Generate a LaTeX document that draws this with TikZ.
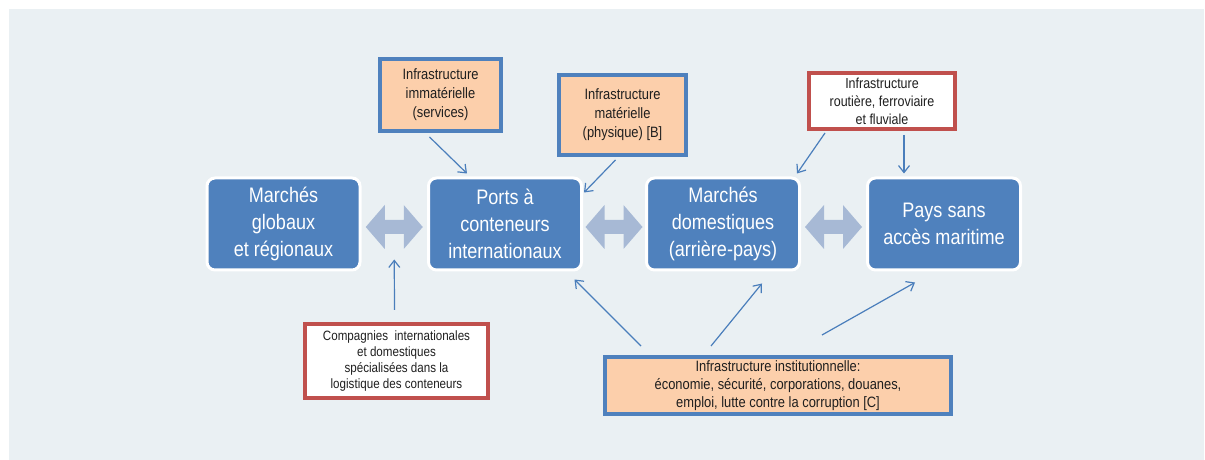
\documentclass[tikz,border=0pt]{standalone}
\usepackage{fontspec}
\setmainfont{Liberation Sans}[FakeStretch=0.86]
\usetikzlibrary{calc,arrows.meta}
\definecolor{fond}{HTML}{EAF0F3}
\definecolor{bleu}{HTML}{4F81BD}
\definecolor{bleuclair}{HTML}{A7B9D5}
\definecolor{peche}{HTML}{FCCFAB}
\definecolor{rouge}{HTML}{C0504D}
\definecolor{trait}{HTML}{4A7EBB}
\definecolor{noir}{HTML}{1F1F1F}

\begin{document}
\begin{tikzpicture}[x=1pt,y=1pt,
	marche/.style={draw=white,line width=3pt,fill=bleu,rounded corners=8pt,minimum width=153pt,minimum height=92pt,align=center,text=white,font=\fontsize{21}{27}\selectfont},
	infra/.style={draw=bleu,line width=4pt,fill=peche,align=center,text=noir,inner sep=1pt},
	acteur/.style={draw=rouge,line width=4pt,fill=white,align=center,text=noir,inner sep=1pt},
	fleche/.style={draw=trait,line width=1.2pt,-{Straight Barb[length=7pt,width=11pt]}}]
			\useasboundingbox (0,0) rectangle (1205,460);
			\fill[fond] (9,0) rectangle (1204,451);
			% marches
			\node[marche] (glob) at (283.5,236) {Marchés\\globaux\\et régionaux};
			\node[marche] (ports) at (505,236) {Ports à\\conteneurs\\internationaux};
			\node[marche] (dom) at (723,236) {Marchés\\domestiques\\(arrière-pays)};
			\node[marche] (pays) at (944,236) {Pays sans\\accès maritime};
			% infrastructures
			\node[infra,minimum width=121pt,minimum height=72pt,font=\fontsize{15}{19}\selectfont] (imm) at (440.5,365) {Infrastructure\\immatérielle\\(services)};
			\node[infra,minimum width=127pt,minimum height=80pt,font=\fontsize{15}{19}\selectfont] (mat) at (622.5,345) {Infrastructure\\matérielle\\(physique) [B]};
			\node[acteur,minimum width=146pt,minimum height=56pt,font=\fontsize{14.5}{18}\selectfont] (rout) at (882,359) {Infrastructure\\routière, ferroviaire\\et fluviale};
			\node[acteur,minimum width=183pt,minimum height=74pt,font=\fontsize{13.5}{16}\selectfont] (comp) at (396.5,99) {Compagnies \ internationales\\et domestiques\\spécialisées dans la\\logistique des conteneurs};
			\node[infra,minimum width=346pt,minimum height=57pt,font=\fontsize{15}{18}\selectfont] (inst) at (778,74.5) {Infrastructure institutionnelle:\\économie, sécurité, corporations, douanes,\\emploi, lutte contre la corruption [C]};
			% doubles fleches
			\foreach \a/\b in {glob/ports,ports/dom,dom/pays}
				\fill[bleuclair] ($(\a.east)!0.5!(\b.west)+(0,-3)$) ++(-28.5,0) -- ++(19,22) -- ++(0,-15) -- ++(19,0) -- ++(0,15) -- ++(19,-22) -- ++(-19,-22) -- ++(0,15) -- ++(-19,0) -- ++(0,-15) -- cycle;
			% fleches
			\draw[fleche] ($(imm.south)+(-11,-4)$) -- ($(ports.north)+(-38,3)$);
			\draw[fleche] ($(mat.south)+(-7,-3)$) -- ($(ports.north east)+(1,-16)$);
			\draw[fleche] ($(rout.south)+(-57,-2)$) -- ($(dom.north east)+(-4,3)$);
			\draw[fleche] ($(rout.south)+(22,-4)$) -- ($(pays.north)+(-40,3)$);
			\draw[fleche] ($(comp.north)+(-2,12)$) -- ($(glob.south east)!0.5!(ports.south west)+(0,12)$);
			\draw[fleche] ($(inst.north)+(-137,9)$) -- ($(ports.south east)+(-8.5,-8)$);
			\draw[fleche] ($(inst.north)+(-67,9)$) -- ($(dom.south)+(39,-12)$);
			\draw[fleche] ($(inst.north)+(44,20)$) -- ($(pays.south)+(-29,-11)$);
		\end{tikzpicture}
\end{document}
